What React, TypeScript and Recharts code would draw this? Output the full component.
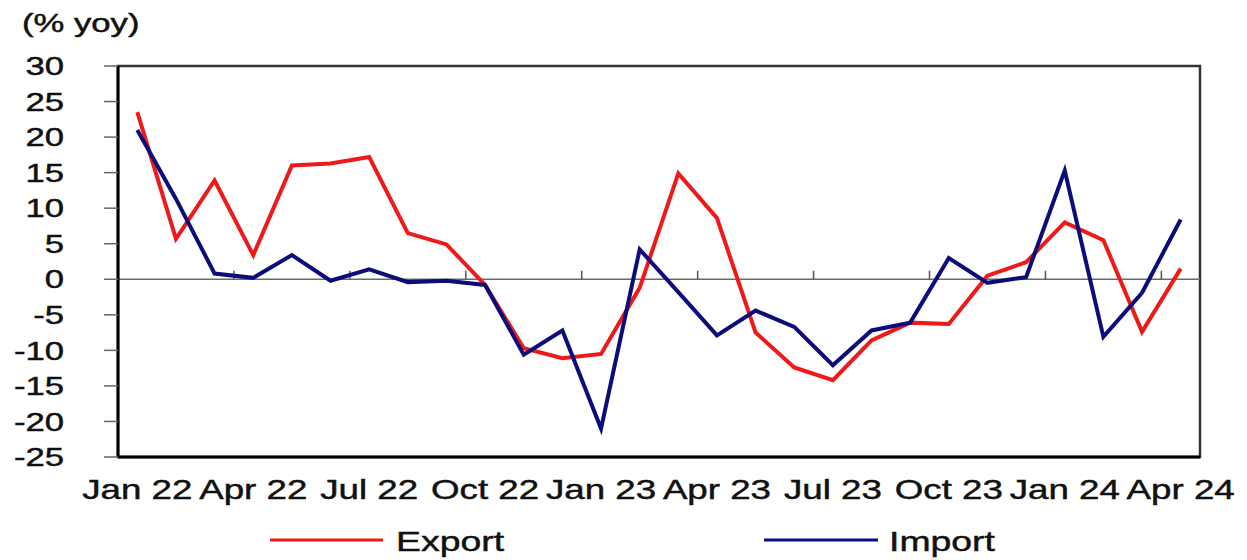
import React from "react";
import {
  LineChart,
  Line,
  XAxis,
  YAxis,
  ReferenceLine,
  ReferenceArea,
  Legend,
} from "recharts";

// Monthly trade growth, Jan 2022 to Apr 2024 (% yoy)
const MONTHS = [
  "Jan 22", "Feb 22", "Mar 22", "Apr 22", "May 22", "Jun 22", "Jul 22",
  "Aug 22", "Sep 22", "Oct 22", "Nov 22", "Dec 22",
  "Jan 23", "Feb 23", "Mar 23", "Apr 23", "May 23", "Jun 23", "Jul 23",
  "Aug 23", "Sep 23", "Oct 23", "Nov 23", "Dec 23",
  "Jan 24", "Feb 24", "Mar 24", "Apr 24",
];

const EXPORT_YOY = [
  23.5, 5.7, 13.9, 3.4, 16.0, 16.3, 17.2, 6.5, 4.9, -0.8, -9.7, -11.1,
  -10.5, -1.2, 14.9, 8.6, -7.5, -12.4, -14.2, -8.6, -6.1, -6.3, 0.5, 2.4,
  8.0, 5.5, -7.4, 1.5,
];

const IMPORT_YOY = [
  21.0, 11.3, 0.8, 0.2, 3.4, -0.2, 1.4, -0.4, -0.2, -0.8, -10.6, -7.2,
  -21.0, 4.2, -1.8, -7.9, -4.4, -6.7, -12.1, -7.2, -6.1, 3.0, -0.5, 0.3,
  15.3, -8.1, -1.9, 8.4,
];

const Y_TICKS = [-25, -20, -15, -10, -5, 0, 5, 10, 15, 20, 25, 30];

// quarterly labels, with small marks between quarters on the zero line
const X_TICKS = MONTHS.map((_, i) => i).filter((i) => i % 3 === 0);
const QUARTER_MARKS = X_TICKS.filter((i) => i > 0).map((i) => i - 0.5);

const SERIES = [
  { key: "export", name: "Export", color: "#ee1a1a" },
  { key: "import", name: "Import", color: "#0c0c7a" },
];

const rows = MONTHS.map((month, idx) => ({
  idx,
  month,
  export: EXPORT_YOY[idx],
  import: IMPORT_YOY[idx],
}));

const FONT = '"Liberation Sans", Arial, sans-serif';
const INK = "#111";
const STRETCH = 1.36;

function StretchedText({
  x,
  y,
  size,
  anchor = "start",
  children,
}: {
  x: number;
  y: number;
  size: number;
  anchor?: "start" | "middle" | "end";
  children: React.ReactNode;
}) {
  return (
    <g transform={`translate(${x},${y}) scale(${STRETCH},1)`}>
      <text
        textAnchor={anchor}
        fontSize={size}
        fontFamily={FONT}
        fill={INK}
        stroke={INK}
        strokeWidth={0.45}
      >
        {children}
      </text>
    </g>
  );
}

function YTick(props: any) {
  const { x, y, payload } = props;
  return (
    <g transform={`translate(0,${0.36 * 25.5})`}>
      <StretchedText x={x} y={y} size={25.5} anchor="end">
        {payload.value}
      </StretchedText>
    </g>
  );
}

function XTick(props: any) {
  const { x, y, payload } = props;
  return (
    <StretchedText x={x} y={y} size={27} anchor="middle">
      {MONTHS[payload.value]}
    </StretchedText>
  );
}

function LegendRow() {
  const items = [
    { ...SERIES[0], x1: 270, x2: 383, tx: 396 },
    { ...SERIES[1], x1: 764, x2: 878, tx: 889 },
  ];
  return (
    <svg width={1247} height={45} style={{ display: "block" }}>
      {items.map((it) => (
        <g key={it.key}>
          <line
            x1={it.x1}
            x2={it.x2}
            y1={25}
            y2={25}
            stroke={it.color}
            strokeWidth={3}
          />
          <StretchedText x={it.tx} y={35.5} size={27.5}>
            {it.name}
          </StretchedText>
        </g>
      ))}
    </svg>
  );
}

export default function App() {
  return (
    <div
      style={{
        position: "absolute",
        left: 0,
        top: 0,
        width: 1247,
        height: 560,
        background: "#fff",
      }}
    >
      <svg
        width={300}
        height={50}
        style={{ position: "absolute", left: 0, top: 0 }}
      >
        <StretchedText x={22} y={31.5} size={25.5}>
          (% yoy)
        </StretchedText>
      </svg>
      <LineChart
        width={1247}
        height={560}
        data={rows}
        margin={{ top: 66, right: 47, bottom: 61, left: 0 }}
      >
        <ReferenceArea
          x1={-0.5}
          x2={27.5}
          y1={-25}
          y2={30}
          fill="none"
          stroke="#333"
          strokeWidth={2.5}
        />
        <XAxis
          type="number"
          dataKey="idx"
          domain={[-0.5, 27.5]}
          ticks={X_TICKS}
          interval={0}
          height={42}
          tickSize={0}
          tickMargin={42}
          tickLine={false}
          axisLine={{ stroke: "#000", strokeWidth: 3 }}
          tick={<XTick />}
          allowDataOverflow
        />
        <YAxis
          type="number"
          domain={[-25, 30]}
          ticks={Y_TICKS}
          interval={0}
          width={118}
          tickSize={14}
          tickMargin={40}
          tickLine={{ stroke: "#666", strokeWidth: 1.5 }}
          axisLine={{ stroke: "#000", strokeWidth: 3 }}
          tick={<YTick />}
          allowDataOverflow
        />
        <ReferenceLine y={0} stroke="#6a6a6a" strokeWidth={1.5} />
        {QUARTER_MARKS.map((m) => (
          <ReferenceLine
            key={m}
            segment={[
              { x: m, y: 0 },
              { x: m, y: 1.2 },
            ]}
            stroke="#555"
            strokeWidth={1.5}
          />
        ))}
        {SERIES.map((s) => (
          <Line
            key={s.key}
            type="linear"
            dataKey={s.key}
            name={s.name}
            stroke={s.color}
            strokeWidth={4}
            dot={false}
            activeDot={false}
            isAnimationActive={false}
          />
        ))}
        <Legend
          verticalAlign="middle"
          align="center"
          content={() => <LegendRow />}
          wrapperStyle={{ position: "absolute", left: 0, top: 515, width: 1247 }}
        />
      </LineChart>
    </div>
  );
}
